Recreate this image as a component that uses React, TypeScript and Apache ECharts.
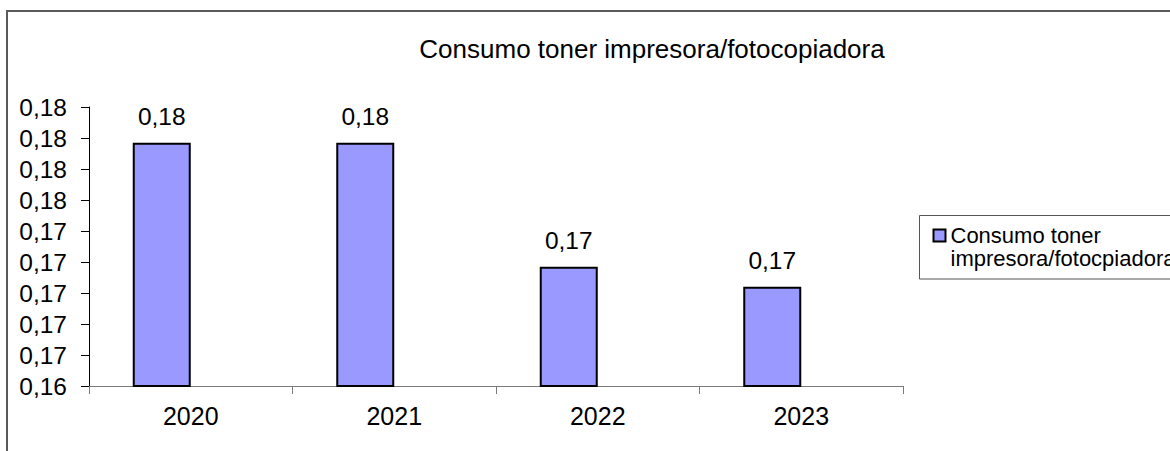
import React, { useEffect, useRef } from 'react';
import * as echarts from 'echarts';

const categories = ['2020', '2021', '2022', '2023'];
const consumo = [0.1797, 0.1797, 0.1717, 0.1704];
const emptySeries = [null, null, null, null];
const yMin = 0.164;
const yMax = 0.182;
const yStep = 0.002;
const titleText = 'Consumo toner impresora/fotocopiadora';
const seriesName = 'Consumo toner impresora/fotocpiadora';

const FONT = "'Liberation Sans', Arial, Helvetica, sans-serif";
const fmt = (v: number) => v.toFixed(2).replace('.', ',');

export default function App() {
  const ref = useRef<HTMLDivElement>(null);
  useEffect(() => {
    if (!ref.current) return;
    const chart = echarts.init(ref.current, undefined, { renderer: 'svg' });
    chart.setOption({
      animation: false,
      backgroundColor: '#ffffff',
      textStyle: { fontFamily: FONT },
      title: {
        text: titleText,
        left: 652,
        top: 35.5,
        textAlign: 'center',
        padding: 0,
        textStyle: { fontFamily: FONT, fontSize: 26, fontWeight: 'normal', color: '#000' },
      },
      graphic: [
        {
          type: 'rect',
          silent: true,
          shape: { x: 7, y: 11, width: 1300, height: 600 },
          style: { fill: 'none', stroke: '#5a5a5a', lineWidth: 2 },
          z: -10,
        },
        {
          type: 'rect',
          silent: true,
          shape: { x: 919.5, y: 215.5, width: 400, height: 63.5 },
          style: { fill: '#fff', stroke: '#555', lineWidth: 1 },
          z: -5,
        },
      ],
      legend: {
        data: [seriesName],
        orient: 'vertical',
        left: 932.5,
        top: 201.75,
        padding: 0,
        itemWidth: 12,
        itemHeight: 12,
        itemGap: 0,
        icon: 'rect',
        itemStyle: { color: '#9999FF', borderColor: '#000', borderWidth: 2 },
        formatter: (name: string) => '\u00a0\n' + name.replace(' impresora', '\nimpresora'),
        textStyle: {
          fontFamily: FONT,
          fontSize: 22,
          color: '#000',
          lineHeight: 22.5,
        },
        z: 10,
      },
      grid: { left: 89, right: 267, top: 107, bottom: 65, containLabel: false },
      xAxis: {
        type: 'category',
        data: categories,
        axisLine: { lineStyle: { color: '#7a7a7a', width: 1 } },
        axisTick: { show: true, inside: false, length: 8, alignWithLabel: false, lineStyle: { color: '#7a7a7a' } },
        axisLabel: { margin: 17.5, fontFamily: FONT, fontSize: 25, color: '#000' },
        splitLine: { show: false },
      },
      yAxis: {
        type: 'value',
        min: yMin,
        max: yMax,
        interval: yStep,
        axisLine: { show: true, lineStyle: { color: '#000', width: 1 } },
        axisTick: { show: true, inside: false, length: 8, lineStyle: { color: '#000' } },
        axisLabel: { margin: 22, fontFamily: FONT, fontSize: 24.5, color: '#000', formatter: (v: number) => fmt(v) },
        splitLine: { show: false },
      },
      series: [
        {
          name: seriesName,
          type: 'bar',
          data: consumo,
          barWidth: 58,
          barGap: '0%',
          itemStyle: { color: '#9999FF', borderColor: '#000', borderWidth: 2 },
          label: {
            show: true,
            position: 'top',
            distance: 14,
            fontFamily: FONT,
            fontSize: 24.5,
            color: '#000',
            formatter: (p: any) => fmt(p.value),
          },
        },
        {
          name: 'placeholder',
          type: 'bar',
          data: emptySeries,
          barWidth: 58,
          barGap: '0%',
          silent: true,
          itemStyle: { color: 'transparent' },
        },
      ],
    });
    return () => chart.dispose();
  }, []);
  return <div ref={ref} style={{ position: 'fixed', left: 0, top: 0, width: 1170, height: 451 }} />;
}
